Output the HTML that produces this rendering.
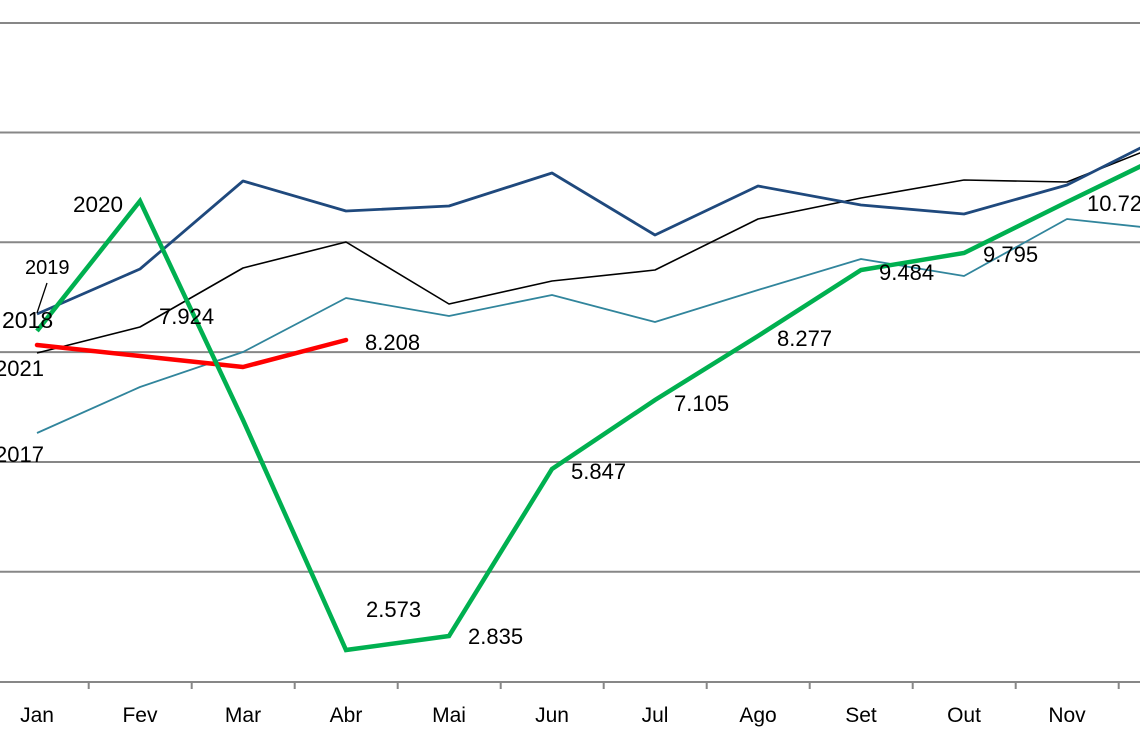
<!DOCTYPE html>
<html>
<head>
<meta charset="utf-8">
<style>
html,body{margin:0;padding:0;background:#fff;}
body{width:1140px;height:742px;overflow:hidden;}
svg{display:block;}
text{font-family:"Liberation Sans",sans-serif;fill:#000;}
</style>
</head>
<body>
<svg width="1140" height="742" viewBox="0 0 1140 742" xmlns="http://www.w3.org/2000/svg">
  <g stroke="#878787" stroke-width="2" fill="none">
    <line x1="0" y1="23" x2="1140" y2="23"/>
    <line x1="0" y1="132.5" x2="1140" y2="132.5"/>
    <line x1="0" y1="242.3" x2="1140" y2="242.3"/>
    <line x1="0" y1="352.1" x2="1140" y2="352.1"/>
    <line x1="0" y1="462" x2="1140" y2="462"/>
    <line x1="0" y1="571.8" x2="1140" y2="571.8"/>
    <line x1="0" y1="682" x2="1140" y2="682"/>
    <line x1="88.7" y1="682" x2="88.7" y2="689"/>
    <line x1="191.7" y1="682" x2="191.7" y2="689"/>
    <line x1="294.7" y1="682" x2="294.7" y2="689"/>
    <line x1="397.7" y1="682" x2="397.7" y2="689"/>
    <line x1="500.7" y1="682" x2="500.7" y2="689"/>
    <line x1="603.7" y1="682" x2="603.7" y2="689"/>
    <line x1="706.7" y1="682" x2="706.7" y2="689"/>
    <line x1="809.7" y1="682" x2="809.7" y2="689"/>
    <line x1="912.7" y1="682" x2="912.7" y2="689"/>
    <line x1="1015.7" y1="682" x2="1015.7" y2="689"/>
    <line x1="1118.7" y1="682" x2="1118.7" y2="689"/>
  </g>

  <!-- 2017 teal -->
  <polyline fill="none" stroke="#31859C" stroke-width="1.8" stroke-linejoin="round"
    points="37,433 140,387 243,352 346,298 449,316 552,295 655,322 758,290 861,259 964,276 1067,219 1170,230"/>
  <!-- black -->
  <polyline fill="none" stroke="#000" stroke-width="1.6" stroke-linejoin="round"
    points="37,353 140,327 243,268 346,242 449,304 552,281 655,270 758,219 861,198 964,180 1067,182 1170,141"/>
  <!-- blue -->
  <polyline fill="none" stroke="#1F497D" stroke-width="2.8" stroke-linejoin="round"
    points="37,314 140,269 243,181 346,211 449,206 552,173 655,235 758,186 861,205 964,214 1067,185 1170,133"/>
  <!-- red 2021 -->
  <polyline fill="none" stroke="#FF0000" stroke-width="4.5" stroke-linejoin="round" stroke-linecap="round"
    points="37,345 140,356 243,367 346,340"/>
  <!-- green 2020 -->
  <polyline fill="none" stroke="#00B050" stroke-width="4.5" stroke-linejoin="miter"
    points="37,331 140,201 243,420 346,650 449,636 552,469 655,400 758,336 861,270 964,253 1067,202 1170,152"/>

  <!-- leader line -->
  <line x1="47" y1="283" x2="37" y2="313" stroke="#000" stroke-width="1.3"/>

  <!-- series labels -->
  <text x="73" y="212" font-size="22.5">2020</text>
  <text x="25" y="274" font-size="20">2019</text>
  <text x="2" y="328" font-size="23">2018</text>
  <text x="44" y="376" font-size="22" text-anchor="end">2021</text>
  <text x="44" y="462" font-size="22" text-anchor="end">2017</text>

  <!-- value labels -->
  <g font-size="22">
    <text x="159" y="324">7.924</text>
    <text x="365" y="350">8.208</text>
    <text x="366" y="617">2.573</text>
    <text x="468" y="644">2.835</text>
    <text x="571" y="479">5.847</text>
    <text x="674" y="411">7.105</text>
    <text x="777" y="346">8.277</text>
    <text x="879" y="280">9.484</text>
    <text x="983" y="262">9.795</text>
    <text x="1087" y="211">10.721</text>
  </g>

  <!-- month labels -->
  <g font-size="21" text-anchor="middle">
    <text x="37" y="722">Jan</text>
    <text x="140" y="722">Fev</text>
    <text x="243" y="722">Mar</text>
    <text x="346" y="722">Abr</text>
    <text x="449" y="722">Mai</text>
    <text x="552" y="722">Jun</text>
    <text x="655" y="722">Jul</text>
    <text x="758" y="722">Ago</text>
    <text x="861" y="722">Set</text>
    <text x="964" y="722">Out</text>
    <text x="1067" y="722">Nov</text>
  </g>
</svg>
</body>
</html>
